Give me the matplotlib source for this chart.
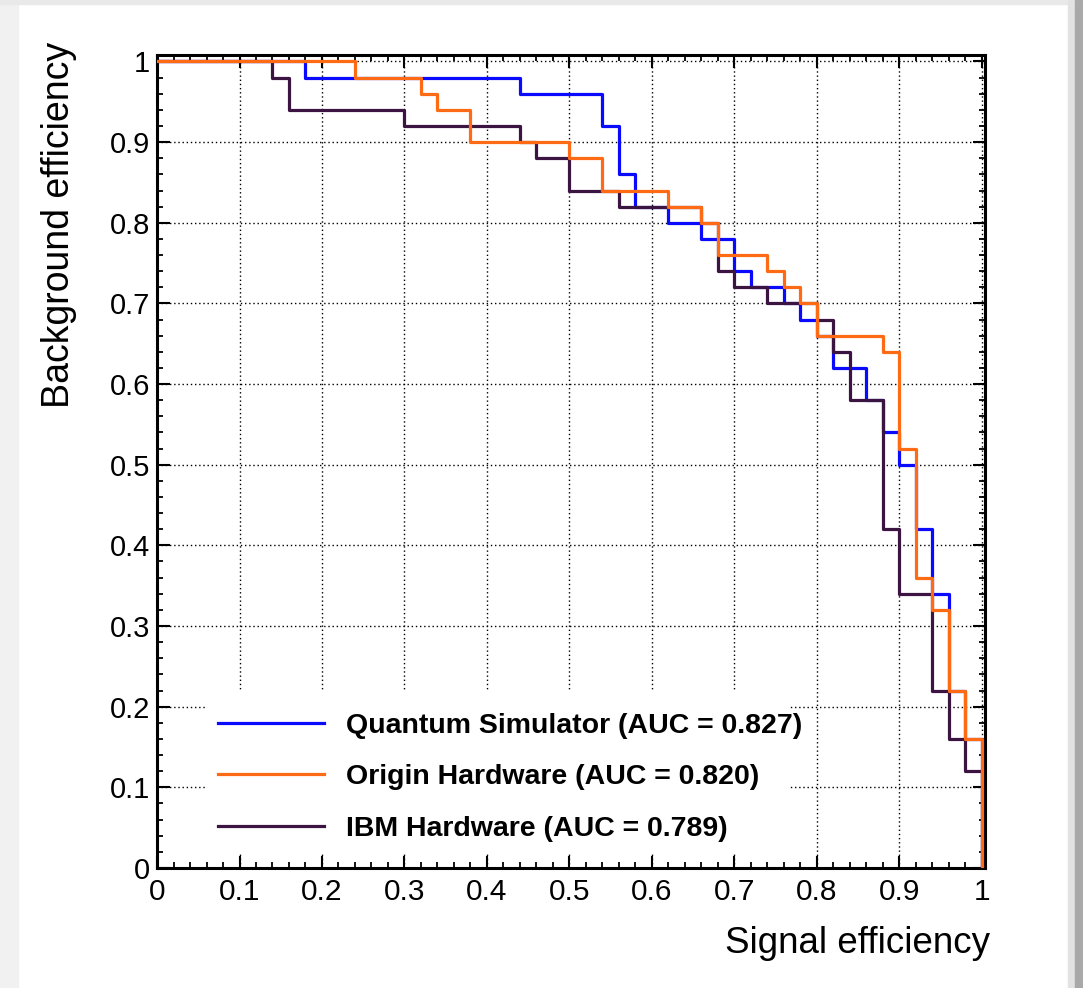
import matplotlib.pyplot as plt
from matplotlib.patches import Rectangle
from matplotlib.ticker import MultipleLocator

# ROC step curves: (signal eff, background eff) corners, steps-post
sim_x = [0.0, 0.18, 0.44, 0.54, 0.56, 0.58, 0.62, 0.66, 0.70, 0.72, 0.76,
         0.78, 0.80, 0.82, 0.86, 0.88, 0.90, 0.92, 0.94, 0.96, 0.98, 1.0]
sim_y = [1.0, 0.98, 0.96, 0.92, 0.86, 0.82, 0.80, 0.78, 0.74, 0.72, 0.70,
         0.68, 0.66, 0.62, 0.58, 0.54, 0.50, 0.42, 0.34, 0.22, 0.16, 0.0]

origin_x = [0.0, 0.24, 0.32, 0.34, 0.38, 0.50, 0.54, 0.62, 0.66, 0.68, 0.74,
            0.76, 0.78, 0.80, 0.88, 0.90, 0.92, 0.94, 0.96, 0.98, 1.0]
origin_y = [1.0, 0.98, 0.96, 0.94, 0.90, 0.88, 0.84, 0.82, 0.80, 0.76, 0.74,
            0.72, 0.70, 0.66, 0.64, 0.52, 0.36, 0.32, 0.22, 0.16, 0.0]

ibm_x = [0.0, 0.14, 0.16, 0.30, 0.44, 0.46, 0.50, 0.56, 0.66, 0.68, 0.70,
         0.74, 0.80, 0.82, 0.84, 0.88, 0.90, 0.94, 0.96, 0.98, 1.0]
ibm_y = [1.0, 0.98, 0.94, 0.92, 0.90, 0.88, 0.84, 0.82, 0.80, 0.74, 0.72,
         0.70, 0.68, 0.64, 0.58, 0.42, 0.34, 0.22, 0.16, 0.12, 0.0]

labels = ["Quantum Simulator (AUC = 0.827)",
          "Origin Hardware (AUC = 0.820)",
          "IBM Hardware (AUC = 0.789)"]
colors = ["#0a0aff", "#ff6a14", "#3c1442"]

ticks = [0, 0.1, 0.2, 0.3, 0.4, 0.5, 0.6, 0.7, 0.8, 0.9, 1.0]
tick_labels = ["0", "0.1", "0.2", "0.3", "0.4", "0.5", "0.6", "0.7", "0.8", "0.9", "1"]

plt.rcParams['font.family'] = ['Liberation Sans', 'DejaVu Sans']

fig = plt.figure(figsize=(10.83, 9.88), dpi=100)
# screenshot card edges
fig.patches.append(Rectangle((0, 0), 18 / 1083, 1, transform=fig.transFigure,
                             color="#f1f1f1", zorder=-5))
fig.patches.append(Rectangle((0, 1 - 4 / 988), 1, 4 / 988, transform=fig.transFigure,
                             color="#e9e9e9", zorder=-5))
fig.patches.append(Rectangle((1068 / 1083, 0), 7 / 1083, 1, transform=fig.transFigure,
                             color="#e2e2e2", zorder=-5))
fig.patches.append(Rectangle((1075 / 1083, 0), 8 / 1083, 1, transform=fig.transFigure,
                             color="#a9a9a9", zorder=-5))

ax = fig.add_axes([0.145, 0.1215, 0.7645, 0.8228])
ax.set_xlim(0, 1.004)
ax.set_ylim(0, 1.008)

ax.set_axisbelow(True)
ax.grid(True, which="major", color="black", linestyle=(0, (1.0, 2.0)), linewidth=1.0)

# legend box hides the grid
ax.add_patch(Rectangle((0.058, 0.02), 0.709, 0.198, facecolor="white",
                       edgecolor="none", zorder=1))

h1, = ax.step(sim_x, sim_y, where="post", color=colors[0], lw=2.3, zorder=3, label=labels[0])
h3, = ax.step(ibm_x, ibm_y, where="post", color=colors[2], lw=2.3, zorder=4, label=labels[2])
h2, = ax.step(origin_x, origin_y, where="post", color=colors[1], lw=2.3, zorder=5, label=labels[1])

ax.set_xticks(ticks, tick_labels)
ax.set_yticks(ticks, tick_labels)
ax.xaxis.set_minor_locator(MultipleLocator(0.02))
ax.yaxis.set_minor_locator(MultipleLocator(0.02))
ax.tick_params(which="both", direction="in", top=True, right=True, color="black")
ax.tick_params(which="major", length=9, width=1.5)
ax.tick_params(which="minor", length=4.5, width=1.3)
ax.tick_params(axis="y", labelsize=21, pad=5)
ax.tick_params(axis="x", labelsize=21.5, pad=7)
for t in ax.get_xticklabels():
    t.set_family(['Liberation Sans Narrow', 'Liberation Sans', 'DejaVu Sans'])
for s in ax.spines.values():
    s.set_linewidth(2.2)

ax.set_xlabel("Signal efficiency", fontsize=26.5, loc="right")
ax.xaxis.set_label_coords(1.006, -0.071)
ax.set_ylabel("Background efficiency", fontsize=27, loc="top")
ax.yaxis.set_label_coords(-0.097, 1.016)

ax.legend(handles=[h1, h2, h3], loc="center left", bbox_to_anchor=(0.074, 0.1115),
          frameon=False, prop={"weight": "bold", "size": 20.5},
          handlelength=3.7, handletextpad=0.8, labelspacing=0.9,
          borderpad=0, borderaxespad=0)

fig.savefig("out.png", dpi=100)
